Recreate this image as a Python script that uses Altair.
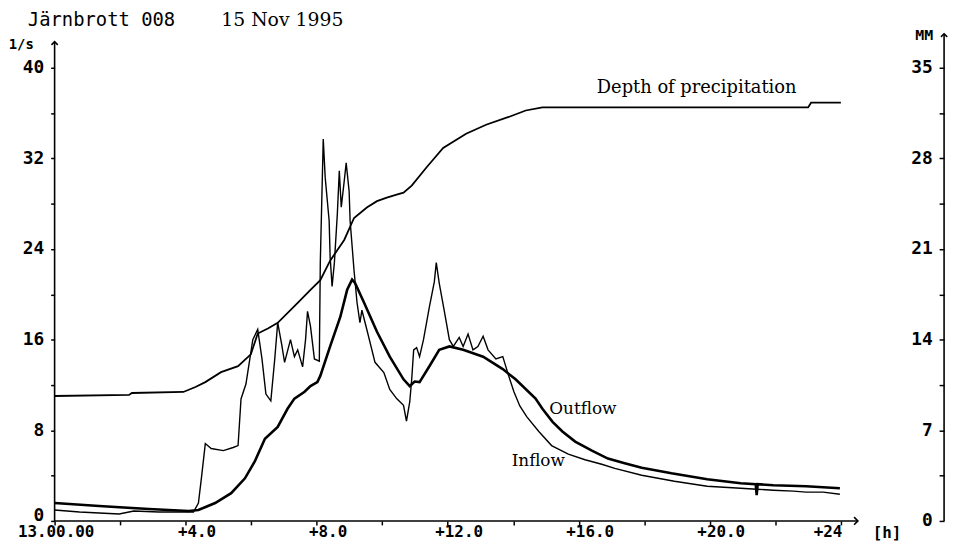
import altair as alt
import pandas as pd

# ---------------- data (hours after 13.00.00) ----------------
inflow_h = [0, 0.76, 1.36, 1.97, 2.42, 3.18, 3.78, 4.24, 4.39, 4.48, 4.60, 4.78, 5.15, 5.45, 5.60,
            5.69, 5.84, 6.05, 6.20, 6.33, 6.45, 6.60, 6.72, 6.81, 6.93, 7.02, 7.20, 7.32, 7.42,
            7.57, 7.66, 7.72, 7.81, 7.93, 8.08, 8.11, 8.20, 8.26, 8.38, 8.41, 8.47, 8.54, 8.63,
            8.69, 8.75, 8.84, 8.90, 8.99, 9.02, 9.14, 9.23, 9.32, 9.38, 9.53, 9.78, 10.05, 10.23,
            10.44, 10.65, 10.74, 10.84, 10.90, 10.96, 11.05, 11.14, 11.26, 11.44, 11.59, 11.65,
            11.74, 11.89, 12.05, 12.17, 12.35, 12.47, 12.62, 12.77, 12.92, 13.08, 13.23, 13.47,
            13.68, 13.86, 14.02, 14.20, 14.41, 14.78, 15.17, 15.68, 16.19, 16.70, 17.10, 17.92,
            18.92, 19.92, 20.94, 21.43, 21.94, 22.55, 22.94, 23.46, 23.97]
inflow = [0.96, 0.79, 0.70, 0.61, 0.88, 0.79, 0.79, 0.79, 1.58, 3.76, 6.83, 6.39, 6.21, 6.48, 6.65,
          10.77, 12.08, 16.0, 16.9, 14.3, 11.2, 10.6, 14.3, 17.5, 15.6, 14.0, 16.0, 14.5, 15.1,
          13.6, 16.0, 18.5, 17.2, 14.3, 14.1, 22.8, 33.7, 30.3, 26.5, 23.3, 20.7, 22.8, 27.1,
          30.9, 27.7, 30.0, 31.6, 29.1, 26.5, 22.1, 19.3, 17.5, 18.6, 16.9, 14.0, 13.1, 11.6,
          10.8, 10.2, 8.8, 10.5, 12.5, 15.1, 15.3, 14.5, 16.0, 18.9, 21.1, 22.8,
          21.0, 18.6, 16.0, 15.4, 16.2, 15.4, 16.5, 15.1, 15.4, 16.3, 15.1, 14.3,
          14.5, 12.8, 11.4, 10.15, 9.2, 7.9, 6.65, 5.9, 5.4, 5.0, 4.64, 4.03,
          3.5, 3.06, 2.89, 2.80, 2.71, 2.63, 2.54, 2.54, 2.36]

outflow_h = [0, 1.36, 2.88, 4.09, 4.39, 4.90, 5.39, 5.81, 6.11, 6.42, 6.81, 7.11, 7.32, 7.63, 7.81,
             8.02, 8.11, 8.41, 8.72, 8.93, 9.08, 9.17, 9.44, 9.84, 10.23, 10.65, 10.84, 10.99,
             11.14, 11.44, 11.74, 12.05, 12.47, 13.08, 13.68, 14.07, 14.68, 14.89, 15.20, 15.50,
             15.89, 16.40, 16.89, 17.40, 17.92, 18.83, 19.92, 20.94, 21.40, 21.43, 21.46, 21.94,
             22.94, 23.97]
outflow = [1.58, 1.31, 1.05, 0.88, 0.96, 1.58, 2.45, 3.76, 5.25, 7.26, 8.3, 9.9, 10.8, 11.4, 11.9,
           12.25, 12.8, 15.4, 18.0, 20.4, 21.3, 21.0, 19.3, 16.7, 14.5, 12.5, 11.9, 12.3,
           12.25, 13.65, 15.1, 15.4, 15.1, 14.5, 13.4, 12.5, 10.8, 9.9, 8.75, 7.9,
           7.0, 6.2, 5.5, 5.1, 4.7, 4.2, 3.68, 3.33, 3.24, 2.28, 3.24, 3.15,
           3.06, 2.89]

precip_h = [0, 2.27, 2.36, 3.93, 4.30, 4.60, 5.08, 5.60, 5.99, 6.20, 6.51, 6.81, 7.42, 7.81, 8.11,
            8.41, 8.84, 9.14, 9.53, 9.84, 10.14, 10.44, 10.65, 10.90, 11.35, 11.86, 12.56, 13.17,
            13.86, 14.38, 14.89, 16.49, 23.0, 23.09, 24.0]
precip = [9.65, 9.73, 9.88, 9.96, 10.34, 10.72, 11.49, 11.95, 12.87, 14.47, 14.86, 15.3, 16.85, 17.84, 18.6,
          20.1, 21.7, 23.4, 24.2, 24.7, 24.97, 25.2, 25.35, 25.9, 27.3, 28.8, 29.9, 30.6,
          31.2, 31.7, 31.94, 31.94, 31.94, 32.3, 32.3]

x_ticks = list(range(0, 25, 2))
left_ticks = list(range(0, 41, 4))
right_ticks = [0, 3.5, 7, 10.5, 14, 17.5, 21, 24.5, 28, 31.5, 35]

W, H = 897, 457
XMAX = 27.15

xs = alt.Scale(domain=[0, XMAX], nice=False, zero=False)
ysl = alt.Scale(domain=[0, 40], nice=False, zero=False)
ysr = alt.Scale(domain=[0, 35], nice=False, zero=False)

MONO = "DejaVu Sans Mono"
SERIF = "DejaVu Serif"

df_in = pd.DataFrame({"h": inflow_h, "v": inflow})
df_out = pd.DataFrame({"h": outflow_h, "v": outflow})
df_p = pd.DataFrame({"h": precip_h, "v": precip})

x_axis = alt.Axis(
    orient="bottom", values=x_ticks,
    labelExpr="datum.value == 0 ? '13.00.00' : datum.value == 24 ? '+24' : datum.value % 4 == 0 ? '+' + format(datum.value, '.1f') : ''",
    domain=False, grid=False, tickSize=4, tickColor="black", tickWidth=1.5,
    labelFont=MONO, labelFontWeight="bold", labelFontSize=16, labelColor="black",
    labelBaseline="middle", labelPadding=7, labelFlush=False, labelOverlap=False,
    labelAlign={"condition": {"test": "datum.value == 24", "value": "right"}, "value": "center"},
    labelOffset={"condition": {"test": "datum.value == 24 || datum.value == 0", "value": 1}, "value": 11},
    title=None,
)
left_axis = alt.Axis(
    orient="left", values=left_ticks,
    labelExpr="datum.value % 8 == 0 ? datum.value : ''",
    domain=False, grid=False, tickSize=4, tickColor="black", tickWidth=1.5,
    labelFont=MONO, labelFontWeight="bold", labelFontSize=18, labelColor="black",
    labelBaseline={"condition": {"test": "datum.value == 0", "value": "alphabetic"}, "value": "middle"},
    labelPadding=7, labelOverlap=False, title=None,
)
right_axis = alt.Axis(
    orient="left", offset=-W, values=right_ticks,
    labelExpr="datum.value % 7 == 0 ? datum.value : ''",
    domain=False, grid=False, tickSize=5, tickColor="black", tickWidth=1.5,
    labelFont=MONO, labelFontWeight="bold", labelFontSize=18, labelColor="black",
    labelPadding=7, labelOverlap=False, title=None,
)


def X(field):
    return alt.X(field, type="quantitative", scale=xs, axis=x_axis)


inflow_line = alt.Chart(df_in).mark_line(color="black", strokeWidth=1.4).encode(
    x=X("h"),
    y=alt.Y("v:Q", scale=ysl, axis=left_axis),
)
outflow_line = alt.Chart(df_out).mark_line(color="black", strokeWidth=2.6).encode(
    x=X("h"),
    y=alt.Y("v:Q", scale=ysl, axis=None),
)
precip_line = alt.Chart(df_p).mark_line(color="black", strokeWidth=1.8).encode(
    x=X("h"),
    y=alt.Y("v:Q", scale=ysr, axis=right_axis),
)

# axis lines with arrow heads
df_vrules = pd.DataFrame({"h": [0, XMAX], "y0": [0, 0], "y1": [42.3, 43.0]})
vrules = alt.Chart(df_vrules).mark_rule(color="black", strokeWidth=1.6).encode(
    x=X("h"),
    y=alt.Y("y0:Q", scale=ysl, axis=None),
    y2="y1:Q",
)
up_arrows = alt.Chart(df_vrules).mark_point(
    shape="M-1,1L0,0L1,1", filled=False, color="black", strokeWidth=1.6, size=40, opacity=1
).encode(
    x=X("h"),
    y=alt.Y("y1:Q", scale=ysl, axis=None),
)
df_hrule = pd.DataFrame({"h": [0], "h1": [24.52], "v": [0]})
hrule = alt.Chart(df_hrule).mark_rule(color="black", strokeWidth=1.6).encode(
    x=X("h"), x2="h1:Q",
    y=alt.Y("v:Q", scale=ysl, axis=None),
)
df_harrow = pd.DataFrame({"h": [24.52], "v": [0]})
right_arrow = alt.Chart(df_harrow).mark_point(
    shape="M-1,-1L0,0L-1,1", filled=False, color="black", strokeWidth=1.6, size=60, opacity=1
).encode(
    x=X("h"),
    y=alt.Y("v:Q", scale=ysl, axis=None),
)

# series labels
df_lab = pd.DataFrame({
    "h": [16.55, 15.1, 13.95],
    "v": [38.2, 9.89, 5.25],
    "t": ["Depth of precipitation", "Outflow", "Inflow"],
    "s": [18, 17, 17],
})
labels = alt.Chart(df_lab).mark_text(
    align="left", baseline="middle", font=SERIF, color="black"
).encode(
    x=X("h"),
    y=alt.Y("v:Q", scale=ysl, axis=None),
    text="t:N",
    size=alt.Size("s:Q", scale=None, legend=None),
)


def txt(s, x, y, font, size, align="left", weight="normal", baseline="alphabetic"):
    return alt.Chart(pd.DataFrame({"t": [s]})).mark_text(
        align=align, baseline=baseline, font=font, fontSize=size,
        fontWeight=weight, color="black"
    ).encode(x=alt.value(x), y=alt.value(y), text="t:N")


title1 = txt("Järnbrott 008", -27, -42, MONO, 19)
title2 = txt("15 Nov 1995", 168, -42, SERIF, 19)
unit_l = txt("1/s", -21, -19, MONO, 14, align="right", weight="bold")
unit_r = txt("MM", 886, -28, MONO, 15, align="right", weight="bold")
unit_h = txt("[h]", 825, 469, MONO, 16, align="left", weight="bold", baseline="middle")

chart = alt.layer(
    inflow_line, outflow_line, precip_line, vrules, up_arrows, hrule, right_arrow,
    labels, title1, title2, unit_l, unit_r, unit_h,
).resolve_scale(y="independent").properties(
    width=W, height=H,
    autosize=alt.AutoSizeParams(type="none"),
    padding={"left": 47, "top": 58, "right": 9, "bottom": 21},
).configure(background="white").configure_view(stroke=None)

chart.save("out.html", embed_options={"renderer": "svg", "actions": False})
